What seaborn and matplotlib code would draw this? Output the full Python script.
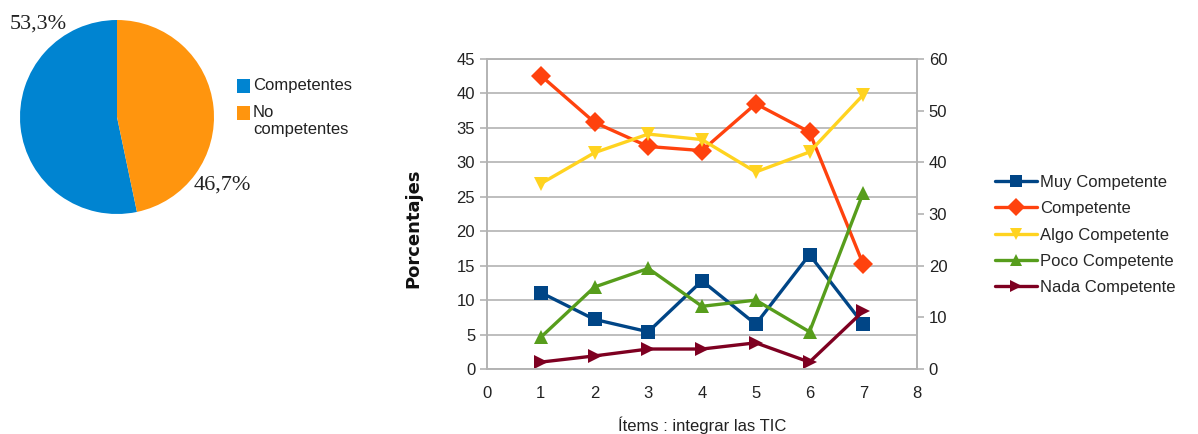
import matplotlib
matplotlib.use("Agg")
import matplotlib.pyplot as plt
import seaborn as sns
import pandas as pd
from matplotlib.patches import Rectangle
from matplotlib.lines import Line2D

# Pie data
pie_labels = ["Competentes", "No\ncompetentes"]
pie_values = [53.3, 46.7]
pie_colors = ["#0084d1", "#ff950e"]

# Line chart data (percent per item)
items = [1, 2, 3, 4, 5, 6, 7]
series_names = ["Muy Competente", "Competente", "Algo Competente",
                "Poco Competente", "Nada Competente"]
muy_competente = [11.1, 7.2, 5.4, 12.8, 6.5, 16.6, 6.5]
competente = [42.6, 35.8, 32.3, 31.7, 38.5, 34.4, 15.2]
algo_competente = [26.9, 31.4, 34.1, 33.3, 28.6, 31.5, 39.8]
poco_competente = [4.6, 11.9, 14.6, 9.1, 10.0, 5.4, 25.6]
nada_competente = [1.0, 1.9, 2.9, 2.9, 3.8, 1.0, 8.4]

line_colors = ["#004586", "#ff420e", "#ffd320", "#579d1c", "#7e0021"]
line_markers = ["s", "D", "v", "^", ">"]

sns.set_theme(style="white")
plt.rcParams["font.family"] = ["Liberation Sans", "DejaVu Sans"]

W, H = 1198, 434
fig = plt.figure(figsize=(W / 100, H / 100), dpi=100)

# ---- Pie chart ----
ax_pie = fig.add_axes([20 / W, 1 - 214 / H, 194 / W, 194 / H])
wedges, _ = ax_pie.pie(pie_values, colors=pie_colors, startangle=90,
                       counterclock=True, wedgeprops=dict(linewidth=0))
ax_pie.set_xlim(-1, 1)
ax_pie.set_ylim(-1, 1)
ax_pie.set_aspect("equal")
fmt = lambda v: f"{v:.1f}".replace(".", ",") + "%"
fig.text(38 / W, 1 - 24 / H, fmt(pie_values[0]), ha="center", va="center",
         family="Liberation Serif", fontsize=16, color="#222222")
fig.text(222 / W, 1 - 185 / H, fmt(pie_values[1]), ha="center", va="center",
         family="Liberation Serif", fontsize=16, color="#222222")

# Pie legend: colour square aligned with the first line of each label
legend_rows = [86, 113]
for color, label, y in zip(pie_colors, pie_labels, legend_rows):
    fig.patches.append(Rectangle((237 / W, 1 - (y + 6.5) / H), 13 / W, 13 / H,
                                 transform=fig.transFigure, facecolor=color,
                                 edgecolor="none"))
    fig.text(253 / W, 1 - (y - 8) / H, label, ha="left", va="top",
             fontsize=12, color="#222222", linespacing=1.15)

# ---- Line chart ----
rows = []
for name, vals in zip(series_names, [muy_competente, competente, algo_competente,
                                     poco_competente, nada_competente]):
    for x, v in zip(items, vals):
        rows.append({"item": x, "serie": name, "valor": v})
df = pd.DataFrame(rows)

ax = fig.add_axes([487 / W, 1 - 369 / H, 430 / W, 310 / H])
sns.lineplot(data=df, x="item", y="valor", hue="serie", style="serie",
             hue_order=series_names, style_order=series_names,
             palette=line_colors, markers=line_markers, dashes=False,
             linewidth=2.4, markersize=10, markeredgewidth=0, ax=ax, legend=False)

ax.set_xlim(0, 8)
ax.set_ylim(0, 45)
ax.set_xticks(range(0, 9))
ax.set_yticks(range(0, 46, 5))
ax.yaxis.grid(True, color="#b3b3b3", linewidth=1.2)
ax.xaxis.grid(False)
for s in ["left", "right", "top", "bottom"]:
    ax.spines[s].set_color("#b3b3b3")
    ax.spines[s].set_linewidth(1.2)
ax.tick_params(axis="both", which="both", length=5, width=1.2, color="#b3b3b3",
               labelsize=12, labelcolor="#222222", direction="out")
ax.tick_params(axis="x", pad=7)
ax.set_xlabel("Ítems : integrar las TIC", fontsize=12, color="#222222")
ax.xaxis.set_label_coords((702 - 487) / 430, -(416 - 369) / 310)
ax.set_ylabel("Porcentajes", fontsize=13, fontweight="bold", color="#111111",
              family="DejaVu Sans")
ax.yaxis.set_label_coords((422 - 487) / 430, (369 - 228) / 310)

ax2 = ax.twinx()
ax2.set_ylim(0, 60)
ax2.set_yticks(range(0, 61, 10))
ax2.grid(False)
for s in ["left", "right", "top", "bottom"]:
    ax2.spines[s].set_color("#b3b3b3")
    ax2.spines[s].set_linewidth(1.2)
ax2.tick_params(axis="y", length=5, width=1.2, color="#b3b3b3",
                labelsize=12, labelcolor="#222222", direction="out")

line_handles = [Line2D([0], [0], color=c, marker=m, linewidth=2.4, markersize=9,
                       markeredgewidth=0) for c, m in zip(line_colors, line_markers)]
fig.legend(line_handles, series_names, loc="center left",
           bbox_to_anchor=(995 / W, 1 - 235 / H), frameon=False,
           fontsize=12, handlelength=2.5, handletextpad=0.2, labelspacing=0.68,
           borderaxespad=0, borderpad=0)

fig.savefig("out.png", dpi=100)
